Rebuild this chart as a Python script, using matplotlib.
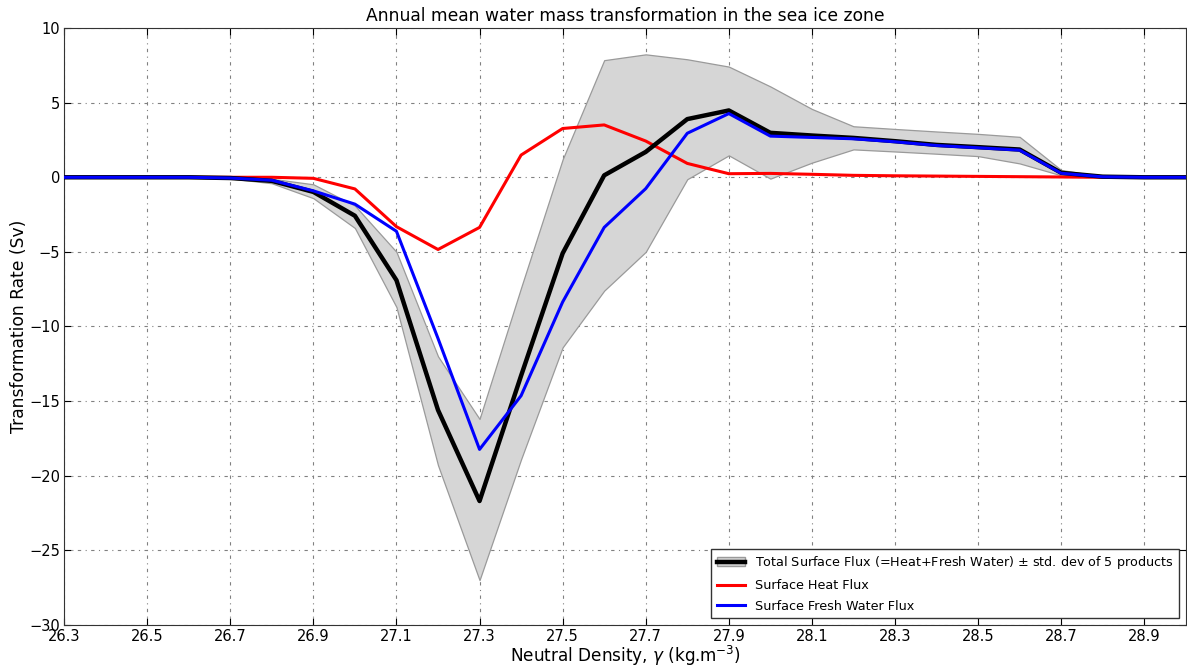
import numpy as np
import matplotlib
matplotlib.use("Agg")
from matplotlib import pyplot as plt
from matplotlib.patches import Patch
from matplotlib.lines import Line2D

# neutral density bins
gamma = [26.3, 26.4, 26.5, 26.6, 26.7, 26.8, 26.9, 27.0, 27.1, 27.2,
         27.3, 27.4, 27.5, 27.6, 27.7, 27.8, 27.9, 28.0, 28.1, 28.2,
         28.3, 28.4, 28.5, 28.6, 28.7, 28.8, 28.9, 29.0]

# transformation rates (Sv)
total = [0, 0, 0, 0, -0.05, -0.24, -0.98, -2.58, -6.9, -15.6,
         -21.7, -13.3, -5.1, 0.13, 1.7, 3.9, 4.48, 2.98, 2.8, 2.64,
         2.42, 2.17, 2.02, 1.86, 0.3, 0.04, 0, 0]
heat = [0, 0, 0, 0, 0, 0, -0.07, -0.78, -3.31, -4.84,
        -3.36, 1.49, 3.27, 3.51, 2.43, 0.93, 0.24, 0.26, 0.2, 0.13,
        0.1, 0.08, 0.06, 0.04, 0.02, 0, 0, 0]
fresh = [0, 0, 0, 0, -0.05, -0.2, -0.91, -1.8, -3.62, -10.8,
         -18.24, -14.64, -8.36, -3.36, -0.76, 2.95, 4.27, 2.76, 2.67, 2.58,
         2.38, 2.13, 1.98, 1.82, 0.27, 0.03, 0, 0]

# spread across the 5 products
total_hi = [0, 0, 0, 0, -0.02, -0.1, -0.47, -1.9, -5.0, -12.0,
            -16.2, -7.4, 1.2, 7.85, 8.24, 7.91, 7.42, 6.09, 4.58, 3.42,
            3.24, 3.07, 2.91, 2.71, 0.49, 0.05, 0, 0]
total_lo = [0, 0, 0, 0, -0.08, -0.4, -1.4, -3.4, -8.7, -19.3,
            -27.0, -18.9, -11.4, -7.6, -5.0, -0.13, 1.47, -0.09, 0.98, 1.87,
            1.73, 1.58, 1.42, 0.93, 0.13, 0, 0, 0]

xticks = np.arange(26.3, 29.0, 0.2)

plt.rcParams['font.family'] = 'DejaVu Sans'
plt.rcParams['xtick.direction'] = 'in'
plt.rcParams['ytick.direction'] = 'in'

fig = plt.figure(figsize=(11.87, 6.69), dpi=100)
ax = fig.add_axes([0.054, 0.066, 0.945, 0.892])

ax.fill_between(gamma, total_lo, total_hi, facecolor='#d6d6d6',
                edgecolor='#9a9a9a', linewidth=0.9, zorder=2)
ax.plot(gamma, total, color='black', lw=3.2, zorder=4)
ax.plot(gamma, heat, color='red', lw=2.2, zorder=3)
ax.plot(gamma, fresh, color='blue', lw=2.2, zorder=5)

ax.set_xlim(26.3, 29.0)
ax.set_ylim(-30, 10)
ax.set_xticks(xticks)
ax.set_xticklabels(['%.1f' % t for t in xticks])
ax.set_yticks(np.arange(-30, 11, 5))
ax.tick_params(labelsize=10.5, top=True, right=True, length=5, pad=3)
ax.grid(True, color='#808080', linestyle=(0, (3, 4, 1, 4)), lw=0.8, zorder=1)
for s in ax.spines.values():
    s.set_color('#333333')

ax.set_title('Annual mean water mass transformation in the sea ice zone',
             fontsize=12.3, pad=5)
ax.set_xlabel(r'Neutral Density, $\gamma$ (kg.m$^{-3}$)', fontsize=12.2, labelpad=0)
ax.set_ylabel('Transformation Rate (Sv)', fontsize=12.3, labelpad=1)

handles = [(Patch(facecolor='#d6d6d6', edgecolor='#9a9a9a'),
            Line2D([], [], color='black', lw=3.2)),
           Line2D([], [], color='red', lw=2.2),
           Line2D([], [], color='blue', lw=2.2)]
labels = [r'Total Surface Flux (=Heat+Fresh Water) $\pm$ std. dev of 5 products',
          'Surface Heat Flux', 'Surface Fresh Water Flux']
leg = ax.legend(handles, labels, loc='lower right', fontsize=9.2,
                fancybox=False, framealpha=1, edgecolor='#333333',
                borderaxespad=0.5, handlelength=2.2, labelspacing=0.6,
                borderpad=0.45)
leg.get_frame().set_linewidth(1.0)

fig.savefig('out.png', dpi=100)
